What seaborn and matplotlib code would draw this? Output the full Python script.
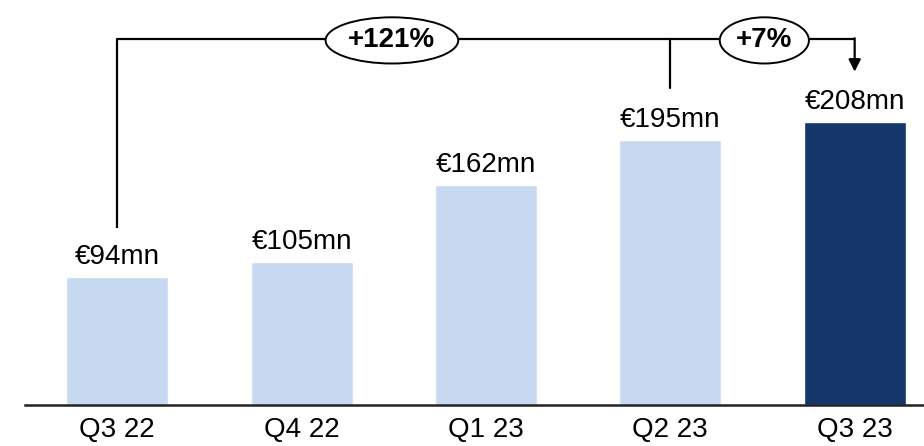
import matplotlib
matplotlib.use('Agg')
import matplotlib.pyplot as plt
import seaborn as sns
import pandas as pd

# Quarterly values (EUR mn)
quarters = ['Q3 22', 'Q4 22', 'Q1 23', 'Q2 23', 'Q3 23']
values = [94, 105, 162, 195, 208]
value_labels = ['€94mn', '€105mn', '€162mn', '€195mn', '€208mn']
growth_labels = ['+121%', '+7%']

light_blue = '#C6D9F0'
dark_blue = '#14366A'

sns.set_style('white')
plt.rcParams['font.family'] = ['Liberation Sans', 'DejaVu Sans']
plt.rcParams['text.color'] = 'black'
plt.rcParams['xtick.color'] = 'black'

df = pd.DataFrame({'quarter': quarters, 'value': values,
                   'highlight': ['old'] * 4 + ['new']})

fig = plt.figure(figsize=(9.24, 4.46), dpi=100)
ax = fig.add_axes([25 / 924, 41 / 446, 1 - 25 / 924, 1 - 41 / 446])

sns.barplot(data=df, x='quarter', y='value', hue='highlight',
            palette={'old': light_blue, 'new': dark_blue},
            width=0.553, dodge=False, legend=False, ax=ax, saturation=1)

# label each bar
for i, v in enumerate(values):
    ax.text(i, v + 5, value_labels[i], ha='center', va='bottom', fontsize=20)

ax.set_xlim(-0.5, 4.376)
ax.set_ylim(0, 297.7)
ax.set_xlabel('')
ax.set_ylabel('')
ax.set_yticks([])
ax.tick_params(axis='x', length=0, pad=9, labelsize=20)
for s in ['top', 'right', 'left']:
    ax.spines[s].set_visible(False)
ax.spines['bottom'].set_linewidth(1.8)
ax.spines['bottom'].set_color('#222222')

# growth bracket
top_y = 269
ax.plot([0, 0, 4], [values[0] + 36, top_y, top_y], color='black', lw=1.6,
        solid_capstyle='butt', clip_on=False)
ax.plot([3, 3], [top_y, values[3] + 38], color='black', lw=1.6)
ax.annotate('', xy=(4, values[4] + 37), xytext=(4, top_y + 0.6),
            arrowprops=dict(arrowstyle='-|>', color='black', lw=1.6,
                            mutation_scale=18, shrinkA=0, shrinkB=0))

ell = dict(boxstyle='ellipse,pad=0.12', fc='white', ec='black', lw=1.4)
ax.text(1.49, top_y - 1, growth_labels[0], ha='center', va='center',
        fontsize=20, fontweight='bold', bbox=ell)
ax.text(3.51, top_y - 1, growth_labels[1], ha='center', va='center',
        fontsize=20, fontweight='bold', bbox=ell)

fig.savefig('out.png', dpi=100)
